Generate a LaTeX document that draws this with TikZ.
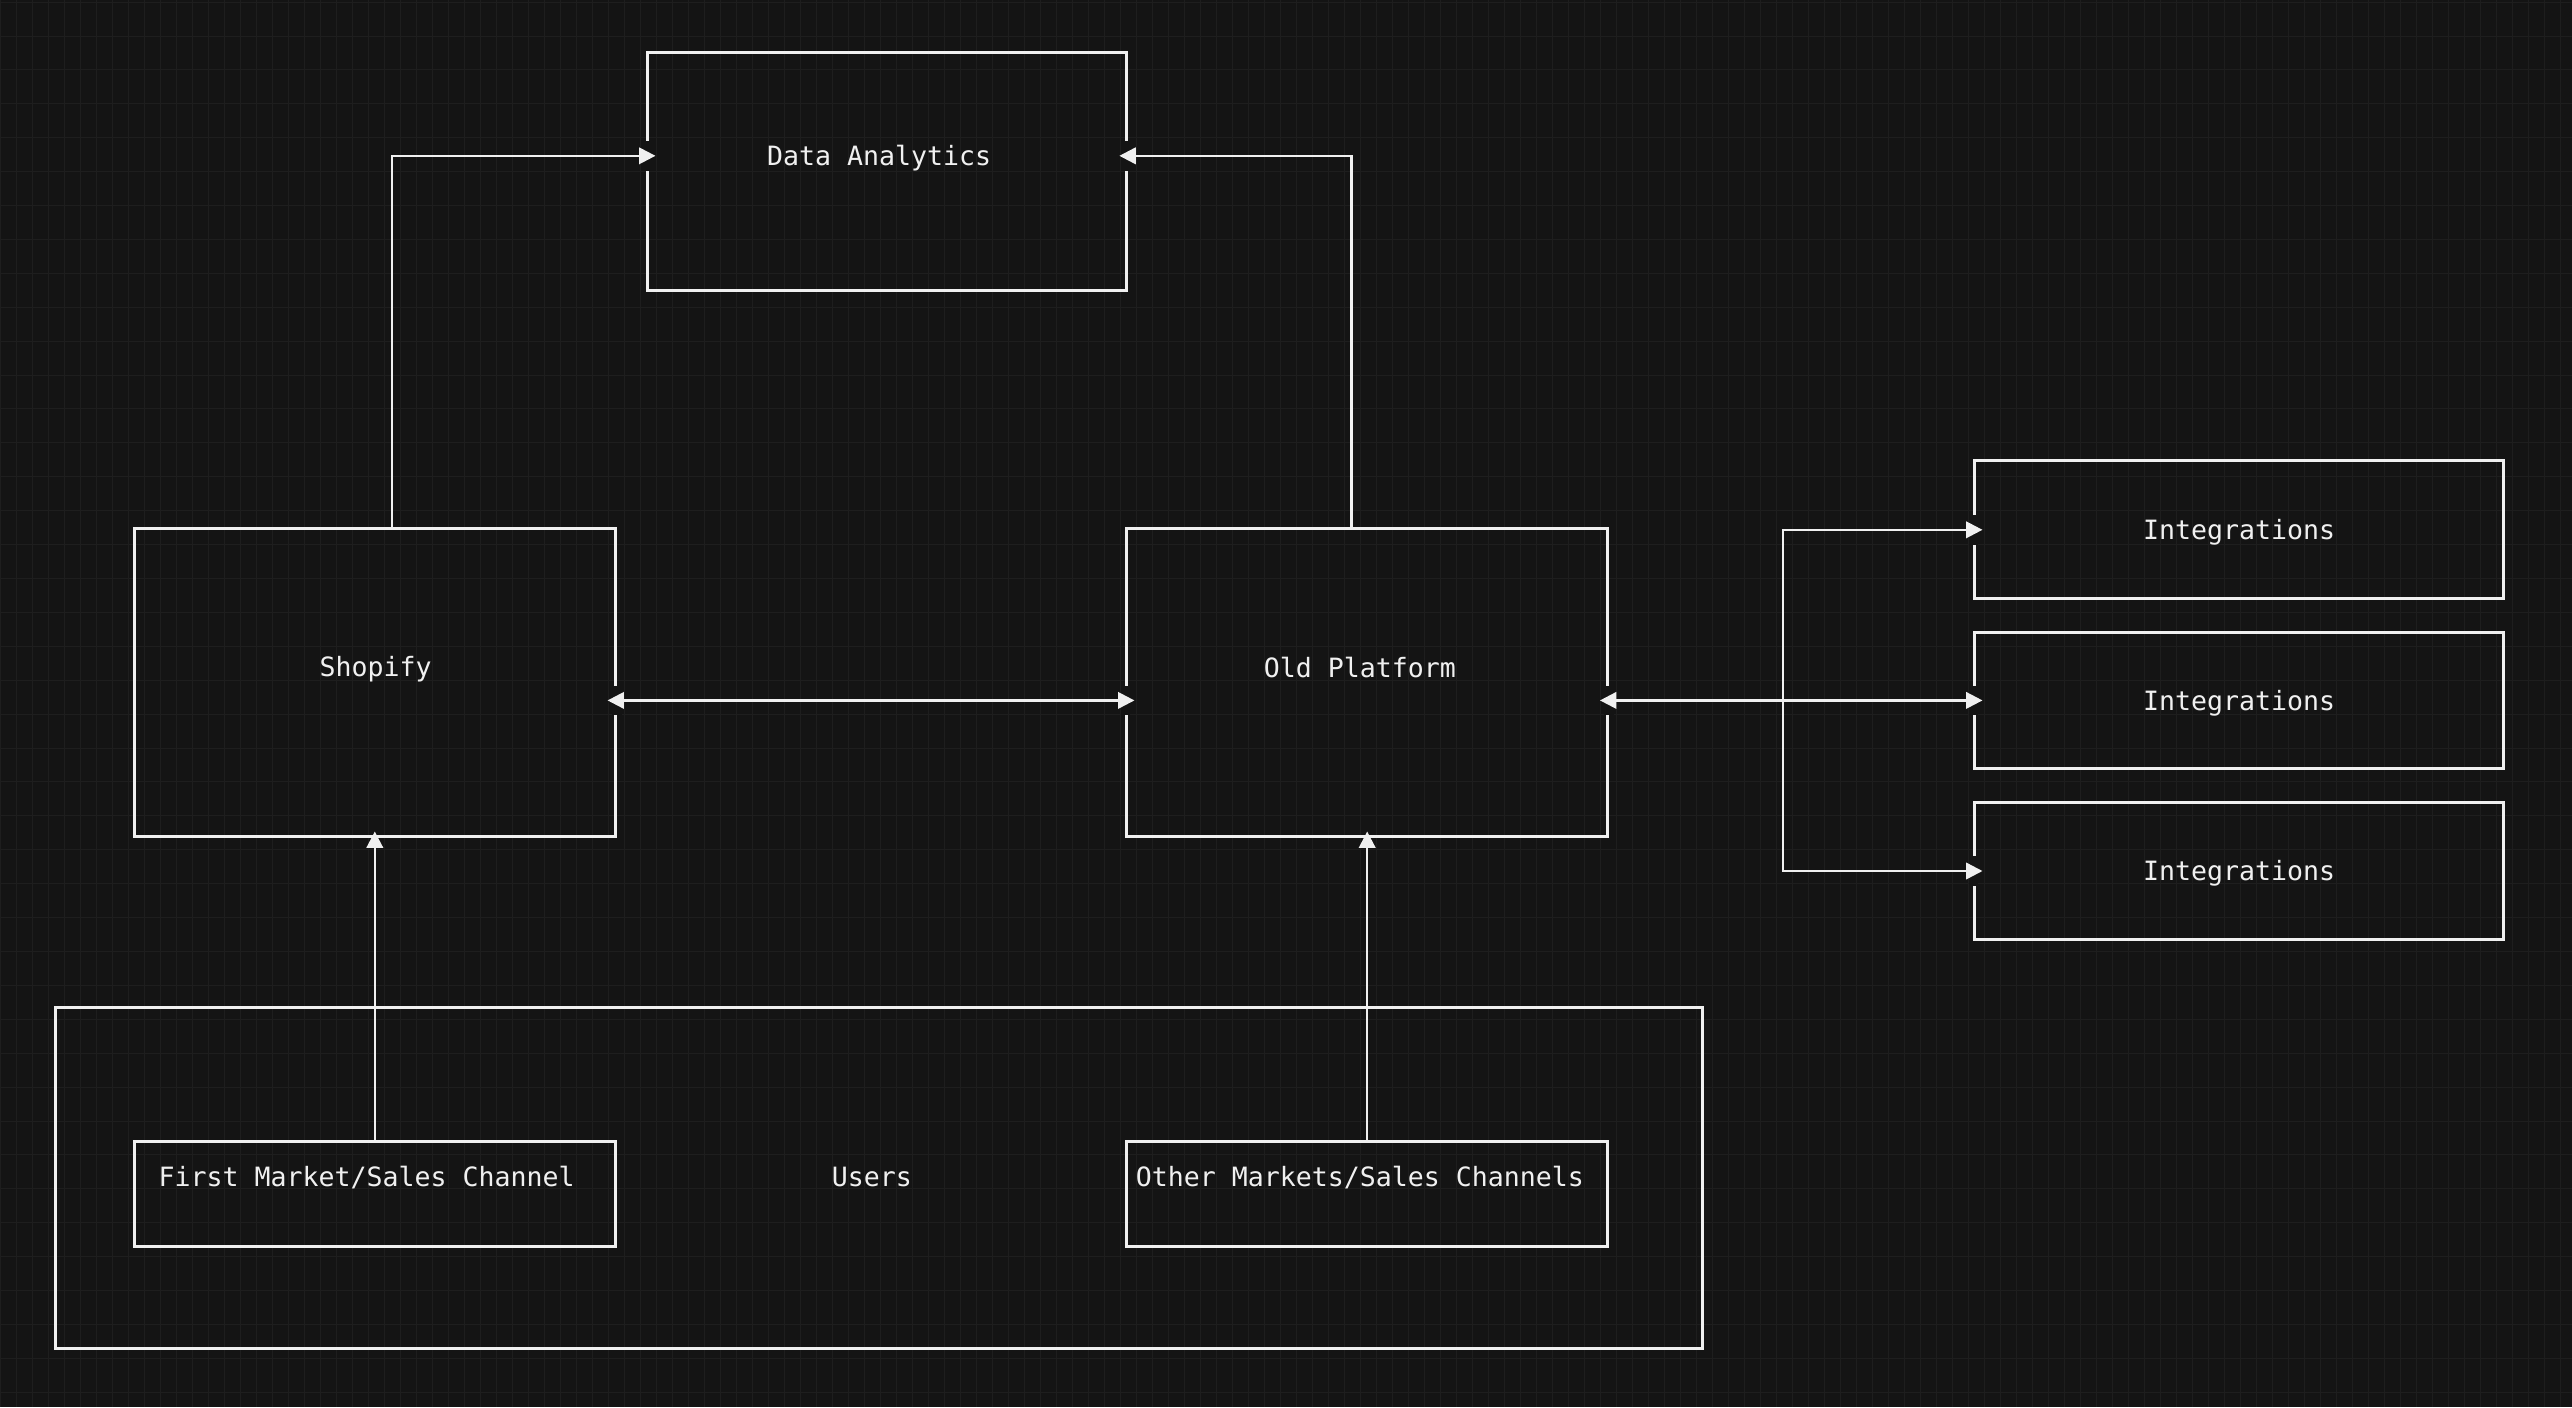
\documentclass[tikz,border=0pt]{standalone}
\usepackage{fontspec}
\setmonofont{DejaVu Sans Mono}
\usepackage{tikz}
\usetikzlibrary{arrows.meta,positioning}
\definecolor{bgc}{RGB}{20,20,20}
\definecolor{gridc}{RGB}{30,30,30}
\definecolor{ink}{RGB}{240,240,240}

\begin{document}
\begin{tikzpicture}[x=1pt,y=-1pt,>={Triangle[length=10pt,width=10pt]},node distance=104pt]
  \tikzstyle{block}=[draw=ink,line width=1.8pt,rectangle,inner sep=0pt]
  \tikzstyle{caption}=[text=ink,font=\ttfamily\fontsize{16.2}{19}\selectfont,anchor=base,inner sep=0pt]
  \tikzstyle{link}=[draw=ink,line width=1.5pt]

  % background and faint grid
  \useasboundingbox (0,0) rectangle (1568,858);
  \fill[bgc] (0,0) rectangle (1568,858);
  \foreach \gx in {0,...,160} \draw[gridc,line width=0.6pt] (\gx*9.755,0) -- (\gx*9.755,858);
  \foreach \gy in {0,...,41} \draw[gridc,line width=0.6pt] (0,1.3+\gy*20.67) -- (1568,1.3+\gy*20.67);

  \node[block,minimum width=1004pt,minimum height=208pt] (users) at (536,718) {};
  \node[block,minimum width=292pt,minimum height=145pt] (da) at (541,104.5) {};
  \node[block,minimum width=293pt,minimum height=188pt] (shop) at (228.5,416) {};
  \node[block,minimum width=293pt,minimum height=188pt] (old) at (833.5,416) {};
  \node[block,minimum width=322pt,minimum height=84pt] (int1) at (1365,323) {};
  \node[block,minimum width=322pt,minimum height=83pt] (int2) [below of=int1] {};
  \node[block,minimum width=322pt,minimum height=83pt] (int3) [below of=int2] {};
  \node[block,minimum width=293pt,minimum height=64pt] (first) at (228.5,728) {};
  \node[block,minimum width=293pt,minimum height=64pt] (other) at (833.5,728) {};

  \node[caption] (daT) at (536,100.6) {Data Analytics};
  \node[caption] (shopT) at (229,412.6) {Shopify};
  \node[caption] (oldT) at (829,412.8) {Old Platform};
  \node[caption] (int1T) at ([yshift=-6pt]int1) {Integrations};
  \node[caption] (int2T) at ([yshift=-6pt]int2) {Integrations};
  \node[caption] (int3T) at ([yshift=-6pt]int3) {Integrations};
  \node[caption] (usersT) at (531.5,723.4) {Users};
  \node[caption] (firstT) at (223.5,723.4) {First Market/Sales Channel};
  \node[caption] (otherT) at (829,723.4) {Other Markets/Sales Channels};

  \coordinate (daL) at ([yshift=9.5pt]da.west);
  \coordinate (daR) at ([yshift=9.5pt]da.east);
  \coordinate (shopR) at ([yshift=-11pt]shop.east);
  \coordinate (oldL) at ([yshift=-11pt]old.west);
  \coordinate (oldR) at ([yshift=-11pt]old.east);
  \coordinate (br) at (1087,427);

  % borders open round the arrow tips
  \foreach \n in {daL,daR,shopR,oldL,oldR,int1.west,int2.west,int3.west}
    \fill[bgc] (\n) ++(-3,-9) rectangle ++(6,18);

  \draw[link,->,shorten >=-5.5pt] ([xshift=10.5pt]shop.north) |- (daL);
  \draw[link,->,shorten >=-5.5pt] ([xshift=-9.5pt]old.north) |- (daR);
  \draw[link,<->,shorten >=-5.5pt,shorten <=-5.5pt] (shopR) -- (oldL);
  \draw[link,<->,shorten >=-5.5pt,shorten <=-5.5pt] (oldR) -- (int2.west);
  \draw[link,<->,shorten >=-5.5pt,shorten <=-5.5pt] (int1.west) -| (br) |- (int3.west);
  \draw[link,->,shorten >=-4pt] (first.north) -- (shop.south);
  \draw[link,->,shorten >=-4pt] (other.north) -- (old.south);
\end{tikzpicture}
\end{document}
